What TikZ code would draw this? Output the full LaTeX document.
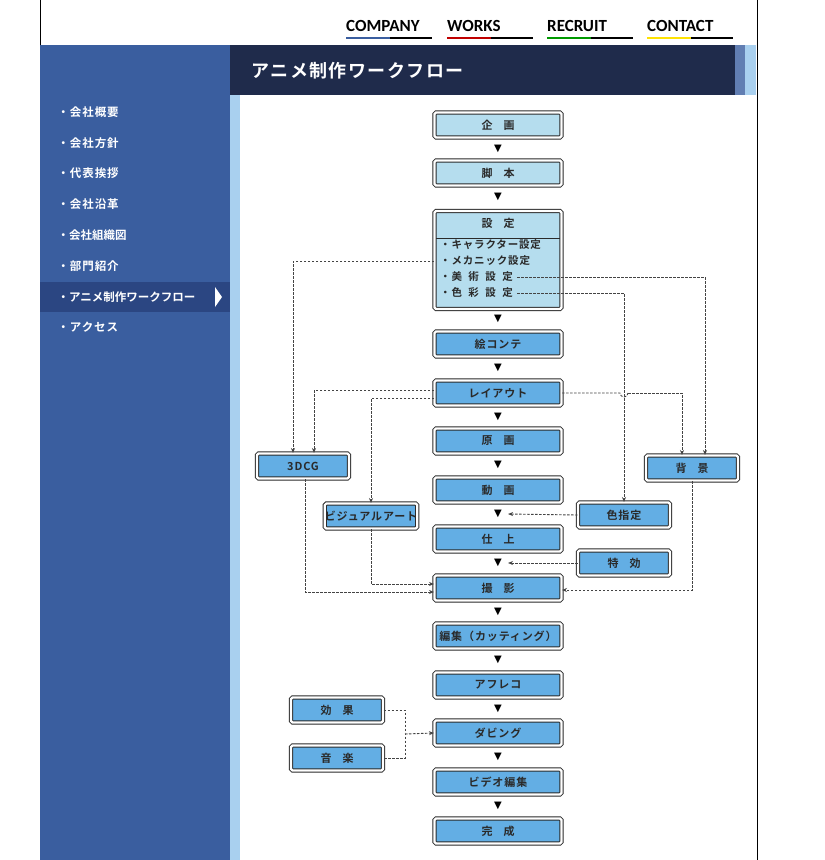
\documentclass[tikz,border=0pt]{standalone}
\usepackage{fontspec}
\setmainfont{Carlito}
\newfontfamily\jp[LetterSpace=8]{Noto Sans CJK JP Bold}
\newfontfamily\jpn{Noto Sans CJK JP Bold}
\newfontfamily\sym{DejaVu Sans}
\usetikzlibrary{arrows.meta,calc}
\definecolor{sidebar}{HTML}{3A5E9F}
\definecolor{sidehi}{HTML}{2B4682}
\definecolor{navy}{HTML}{1F2B4B}
\definecolor{lblue}{HTML}{A9D0EF}
\definecolor{bbox}{HTML}{63AEE4}
\definecolor{pbox}{HTML}{B5DDEE}
\definecolor{edge}{HTML}{2A2A2A}
\definecolor{conn}{HTML}{444444}
\begin{document}
\begin{tikzpicture}[x=1pt,y=-1pt,
  box/.style={draw=edge,line width=1pt,double=white,double distance=2.2pt,rounded corners=1.5pt,
    fill=bbox,minimum width=127pt,minimum height=25pt,inner sep=0pt,
    font=\jp\fontsize{11}{11}\selectfont,text=edge},
  sbox/.style={box,minimum width=92pt},
  pale/.style={fill=pbox},
  tri/.style={inner sep=0pt,font=\sym\fontsize{10}{10}\selectfont,text=black},
  con/.style={draw=conn,dashed,dash pattern=on 2.5pt off 1.5pt,line width=0.9pt},
  arr/.style={con,-{Stealth[length=5pt,width=4pt]}},
  side/.style={anchor=west,text=white,font=\jp\fontsize{11.5}{12}\selectfont},
  nav/.style={font=\bfseries\fontsize{17}{17}\selectfont,anchor=base west,inner sep=0pt}]
\useasboundingbox (0,0) rectangle (825,860);
\fill[white] (0,0) rectangle (825,860);
% frame lines
\draw[black,line width=0.8pt] (40.5,0) -- (40.5,45);
\draw[black,line width=0.8pt] (757,0) -- (757,860);
% sidebar
\fill[sidebar] (40,45) rectangle (230,860);
\fill[sidehi] (40,282) rectangle (230,312);
\fill[white] (215,287) -- (222,297) -- (215,307) -- cycle;
\fill[navy] (230,45) rectangle (735,95);
\fill[sidebar!80] (735,45) rectangle (745,95);
\fill[lblue] (745,45) rectangle (756,95);
\fill[lblue] (230,95) rectangle (240,860);
\node[anchor=west,text=white,font=\jp\fontsize{18}{18}\selectfont] (title) at (248,71) {アニメ制作ワークフロー};
% nav
\node[nav] (n1) at (346,31) {COMPANY};
\node[nav] (n2) at (447,31) {WORKS};
\node[nav] (n3) at (547,31) {RECRUIT};
\node[nav] (n4) at (647,31) {CONTACT};
\foreach \x/\c in {346/sidebar,447/red!75!black,547/green!60!black,647/yellow!85!orange}{
  \draw[line width=2pt,\c] (\x,37.5) -- (\x+44,37.5);
  \draw[line width=2pt,black] (\x+44,37.5) -- (\x+86,37.5);}
% side menu
\node[side] (m1) at (54,112) {・会社概要};
\node[side] (m2) at (54,143) {・会社方針};
\node[side] (m3) at (54,173) {・代表挨拶};
\node[side] (m4) at (54,204) {・会社沿革};
\node[side,font=\jpn\fontsize{11.5}{12}\selectfont] (m5) at (54,235) {・会社組織図};
\node[side] (m6) at (54,266) {・部門紹介};
\node[side,font=\jpn\fontsize{11.5}{12}\selectfont] (m7) at (54,297) {・アニメ制作ワークフロー};
\node[side] (m8) at (54,327) {・アクセス};
% main column
\node[box,pale] (kikaku) at (498,125) {企\quad 画};
\node[tri] (t1) at (498,149) {▼};
\node[box,pale] (kyaku) at (498,173) {脚\quad 本};
\node[tri] (t2) at (498,197) {▼};
\node[box,pale,minimum height=98pt] (settei) at (498,260) {};
\draw[edge,line width=1pt] ($(settei.north west)+(2,28)$) -- ($(settei.north east)+(-2,28)$);
\node[font=\jp\fontsize{11}{11}\selectfont,text=edge] (sh) at (498,223) {設\quad 定};
\node[anchor=west,font=\jp\fontsize{10.5}{11}\selectfont,text=edge,inner sep=0pt] (s1) at (440,245) {・キャラクター設定};
\node[anchor=west,font=\jp\fontsize{10.5}{11}\selectfont,text=edge,inner sep=0pt] (s2) at (440,261) {・メカニック設定};
\node[anchor=west,font=\jp\fontsize{10.5}{11}\selectfont,text=edge,inner sep=0pt] (s3) at (440,277) {・美\ \ 術\ \ 設\ \ 定};
\node[anchor=west,font=\jp\fontsize{10.5}{11}\selectfont,text=edge,inner sep=0pt] (s4) at (440,293) {・色\ \ 彩\ \ 設\ \ 定};
\node[tri] (t3) at (498,319) {▼};
\node[box] (ekonte) at (498,344) {絵コンテ};
\node[tri] (t4) at (498,368) {▼};
\node[box] (layout) at (498,393) {レイアウト};
\node[tri] (t5) at (498,417) {▼};
\node[box] (genga) at (498,441) {原\quad 画};
\node[tri] (t6) at (498,465) {▼};
\node[box] (douga) at (498,490) {動\quad 画};
\node[tri] (t7) at (498,514) {▼};
\node[box] (shiage) at (498,539) {仕\quad 上};
\node[tri] (t8) at (498,563) {▼};
\node[box] (satsuei) at (498,588) {撮\quad 影};
\node[tri] (t9) at (498,612) {▼};
\node[box] (henshu) at (498,636) {編集（カッティング）};
\node[tri] (t10) at (498,660) {▼};
\node[box] (afureko) at (498,685) {アフレコ};
\node[tri] (t11) at (498,709) {▼};
\node[box] (dubbing) at (498,733) {ダビング};
\node[tri] (t12) at (498,757) {▼};
\node[box] (video) at (498,782) {ビデオ編集};
\node[tri] (t13) at (498,806) {▼};
\node[box] (kansei) at (498,831) {完\quad 成};
% side boxes
\node[sbox] (cg) at (303,466) {3DCG};
\node[sbox] (haikei) at (692,468) {背\quad 景};
\node[sbox] (visual) at (371,516) {ビジュアルアート};
\node[sbox] (iro) at (624,515) {色指定};
\node[sbox] (tokko) at (624,563) {特\quad 効};
\node[sbox] (kouka) at (337,710) {効\quad 果};
\node[sbox] (ongaku) at (337,758) {音\quad 楽};
% connectors
\coordinate (jn) at (405,734);
\coordinate (hop) at (628,393);
\draw[arr] (settei.west |- s2) -| (cg.north -| 293,0);
\draw[arr] ($(s3.east)+(4,0)$) -| (haikei.north -| 705,0);
\draw[arr] ($(s4.east)+(4,0)$) -| (iro.north);
\draw[arr] (layout.west |- 0,390) -| (cg.north -| 314,0);
\draw[arr] (layout.west |- 0,398) -| (visual.north);
\draw[con] (layout.east) -- (620,393) arc[start angle=180,end angle=0,radius=4];
\draw[arr] (hop) -| (haikei.north -| 682,0);
\draw[arr] (cg.south -| 305,0) |- (satsuei.west |- 0,592);
\draw[arr] (visual.south) |- (satsuei.west |- 0,584);
\draw[arr] (haikei.south) |- (satsuei.east |- 0,590);
\draw[arr] (iro.west) -- ([xshift=6pt]t7.east);
\draw[arr] (tokko.west) -- ([xshift=6pt]t8.east);
\draw[con] (kouka.east) -| (jn) |- (ongaku.east);
\draw[arr] (jn) -- (dubbing.west);
\end{tikzpicture}
\end{document}
